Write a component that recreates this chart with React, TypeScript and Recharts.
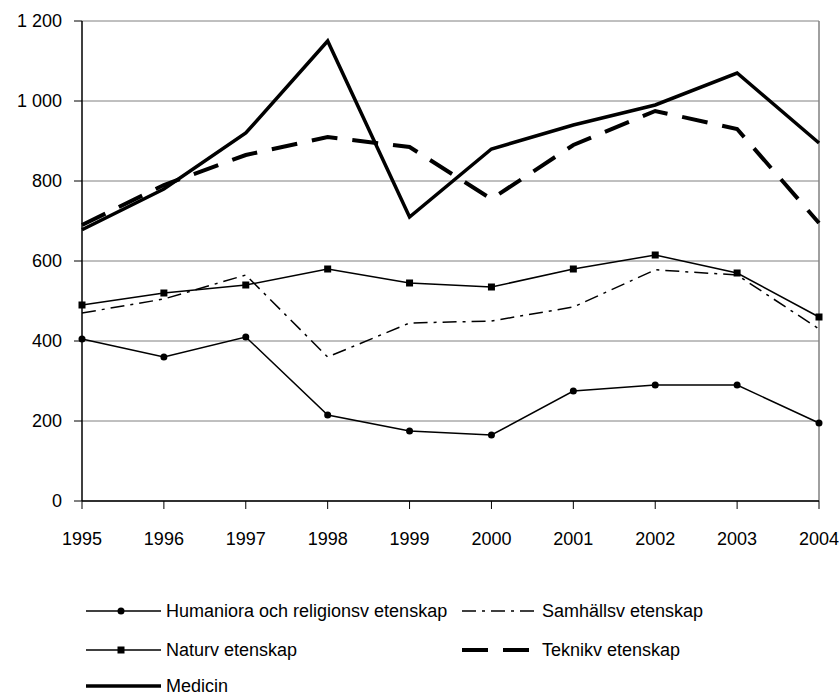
import { LineChart, Line, XAxis, YAxis, CartesianGrid, ReferenceLine } from 'recharts';

const years = ['1995', '1996', '1997', '1998', '1999', '2000', '2001', '2002', '2003', '2004'];
const humaniora = [405, 360, 410, 215, 175, 165, 275, 290, 290, 195];
const samhalls = [470, 505, 565, 360, 445, 450, 485, 578, 565, 430];
const natur = [490, 520, 540, 580, 545, 535, 580, 615, 570, 460];
const teknik = [690, 790, 865, 910, 885, 755, 890, 975, 930, 695];
const medicin = [678, 780, 920, 1150, 710, 880, 940, 990, 1070, 895];
const yTicks = [0, 200, 400, 600, 800, 1000, 1200];

const data = years.map((year, i) => ({
  year,
  humaniora: humaniora[i],
  samhalls: samhalls[i],
  natur: natur[i],
  teknik: teknik[i],
  medicin: medicin[i],
}));

const FONT = '"Liberation Sans", Arial, sans-serif';

const fmt = (v: number) => (v >= 1000 ? `${Math.floor(v / 1000)} ${String(v % 1000).padStart(3, '0')}` : String(v));

const SquareDot = (props: any) => {
  const { cx, cy } = props;
  if (cx == null || cy == null) return null;
  return <rect x={cx - 3.5} y={cy - 3.5} width={7} height={7} fill="#000" />;
};

interface LegendItemProps {
  left: number;
  top: number;
  label: string;
  strokeWidth: number;
  dash?: string;
  marker?: 'circle' | 'square';
}

function LegendItem({ left, top, label, strokeWidth, dash, marker }: LegendItemProps) {
  return (
    <div style={{ position: 'absolute', left, top: top - 12, height: 24, display: 'flex', alignItems: 'center' }}>
      <svg width={76} height={24} style={{ display: 'block' }}>
        <line x1={0} y1={12} x2={75} y2={12} stroke="#000" strokeWidth={strokeWidth} strokeDasharray={dash} />
        {marker === 'circle' && <circle cx={35} cy={12} r={3.5} fill="#000" />}
        {marker === 'square' && <rect x={31.5} y={8.5} width={7} height={7} fill="#000" />}
      </svg>
      <span style={{ marginLeft: 4, fontFamily: FONT, fontSize: 18, color: '#000', whiteSpace: 'pre' }}>{label}</span>
    </div>
  );
}

export default function App() {
  return (
    <div style={{ position: 'fixed', left: 0, top: 0, width: 840, height: 698, background: '#fff' }}>
      <LineChart
        width={840}
        height={698}
        data={data}
        margin={{ top: 21, right: 21, left: 0, bottom: 0 }}
        style={{ overflow: 'visible' }}
      >
        <CartesianGrid horizontal vertical={false} stroke="#808080" strokeWidth={1} />
        <XAxis
          dataKey="year"
          height={197}
          tickSize={8}
          tickMargin={23}
          axisLine={{ stroke: '#000', strokeWidth: 1.5 }}
          tickLine={{ stroke: '#000' }}
          tick={{ fill: '#000', fontSize: 18, fontFamily: FONT }}
          interval={0}
        />
        <YAxis
          width={82}
          domain={[0, 1200]}
          ticks={yTicks}
          tickFormatter={fmt}
          tickSize={8}
          tickMargin={12}
          axisLine={{ stroke: '#000', strokeWidth: 1.5 }}
          tickLine={{ stroke: '#000' }}
          tick={{ fill: '#000', fontSize: 18, fontFamily: FONT }}
          interval={0}
        />
        <ReferenceLine x="2004" stroke="#808080" strokeWidth={1.5} />
        <Line
          dataKey="humaniora"
          stroke="#000"
          strokeWidth={1.5}
          dot={{ r: 3.5, fill: '#000', stroke: 'none' }}
          isAnimationActive={false}
        />
        <Line
          dataKey="samhalls"
          stroke="#000"
          strokeWidth={1.5}
          strokeDasharray="14 6 3 6"
          dot={false}
          isAnimationActive={false}
        />
        <Line
          dataKey="natur"
          stroke="#000"
          strokeWidth={1.5}
          dot={<SquareDot />}
          isAnimationActive={false}
        />
        <Line
          dataKey="teknik"
          stroke="#000"
          strokeWidth={4}
          strokeDasharray="26 15"
          dot={false}
          isAnimationActive={false}
        />
        <Line
          dataKey="medicin"
          stroke="#000"
          strokeWidth={3.5}
          dot={false}
          isAnimationActive={false}
        />
      </LineChart>
      <LegendItem left={86} top={611} label="Humaniora och religionsv etenskap" strokeWidth={1.5} marker="circle" />
      <LegendItem left={462} top={611} label="Samhällsv etenskap" strokeWidth={1.5} dash="14 6 3 6" />
      <LegendItem left={86} top={650} label="Naturv etenskap" strokeWidth={1.5} marker="square" />
      <LegendItem left={462} top={650} label="Teknikv etenskap" strokeWidth={4} dash="26 15" />
      <LegendItem left={86} top={686} label="Medicin" strokeWidth={3.5} />
    </div>
  );
}
